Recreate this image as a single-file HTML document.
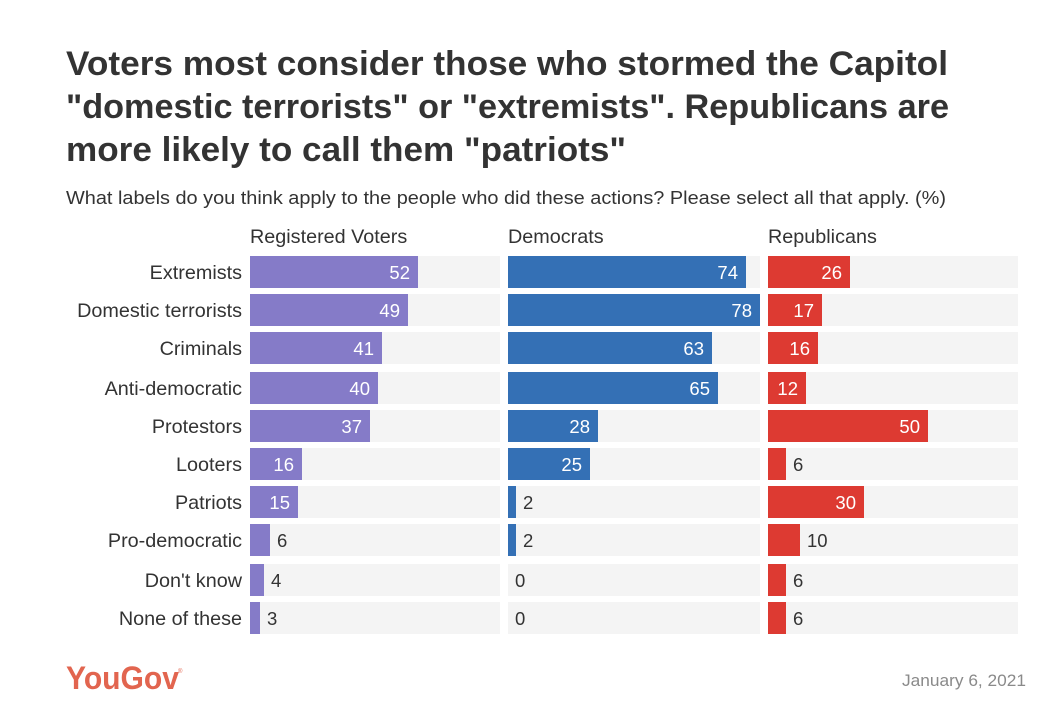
<!DOCTYPE html>
<html lang="en">
<head>
<meta charset="utf-8">
<title>YouGov chart</title>
<style>
  html, body { margin: 0; padding: 0; background: #fff; }
  svg { display: block; font-family: "Liberation Sans", sans-serif; }
</style>
</head>
<body>
<svg id="chart" width="1058" height="726" viewBox="0 0 1058 726" xmlns="http://www.w3.org/2000/svg">
  <rect x="0" y="0" width="1058" height="726" fill="#ffffff"/>
  <g font-size="34" font-weight="700" fill="#333333">
    <text x="66" y="75" textLength="882" lengthAdjust="spacingAndGlyphs">Voters most consider those who stormed the Capitol</text>
    <text x="66" y="118" textLength="883" lengthAdjust="spacingAndGlyphs">"domestic terrorists" or "extremists". Republicans are</text>
    <text x="66" y="161" textLength="560" lengthAdjust="spacingAndGlyphs">more likely to call them "patriots"</text>
  </g>
  <text x="66" y="204" font-size="18.5" fill="#333333" textLength="880" lengthAdjust="spacingAndGlyphs">What labels do you think apply to the people who did these actions? Please select all that apply. (%)</text>
  <g id="plot"></g>
  <g>
    <text x="66" y="689" font-size="32" font-weight="700" fill="#e2654f" textLength="113" lengthAdjust="spacingAndGlyphs">YouGov</text>
    <text x="178" y="673" font-size="6" fill="#e2654f">®</text>
  </g>
  <text x="1026" y="686" font-size="17" fill="#8a8a8a" text-anchor="end" textLength="124" lengthAdjust="spacingAndGlyphs">January 6, 2021</text>
</svg>
<script>
const categories = ["Extremists", "Domestic terrorists", "Criminals", "Anti-democratic", "Protestors", "Looters", "Patriots", "Pro-democratic", "Don't know", "None of these"];
const registeredVoters = [52, 49, 41, 40, 37, 16, 15, 6, 4, 3];
const democrats = [74, 78, 63, 65, 28, 25, 2, 2, 0, 0];
const republicans = [26, 17, 16, 12, 50, 6, 30, 10, 6, 6];
const panelTitles = ["Registered Voters", "Democrats", "Republicans"];

const NS = "http://www.w3.org/2000/svg";
const plot = document.getElementById("plot");
const series = [registeredVoters, democrats, republicans];
const colors = ["#857bc8", "#3470b5", "#dd3a32"];
const panelLeft = [250, 508, 768];
const trackWidths = [250, 252, 250];
const pxPerUnit = [3.2, 3.21, 3.2];
const snap = [Math.ceil, Math.ceil, Math.floor];
const barHeight = 32;
const insideMin = 12;
const labelSize = 19.8;

function yPos(i) { return 2 * Math.round((256 + i * 38.4) / 2); }
function xLen(v, p) { return 2 * snap[p](v * pxPerUnit[p] / 2); }

function make(tag, attrs, text) {
  const el = document.createElementNS(NS, tag);
  for (const k in attrs) el.setAttribute(k, attrs[k]);
  if (text !== undefined) el.textContent = text;
  return el;
}

categories.forEach(function (cat, i) {
  const label = make("text", { x: 242, y: yPos(i) + 23, "font-size": labelSize, fill: "#333333", "text-anchor": "end" }, cat);
  
  
  plot.appendChild(label);
});

series.forEach(function (values, p) {
  const left = panelLeft[p];
  const title = make("text", { x: left, y: 243, "font-size": labelSize, fill: "#333333" }, panelTitles[p]);
  
  
  plot.appendChild(title);

  values.forEach(function (v, i) {
    const y = yPos(i);
    const track = make("rect", { x: left, y: y, width: trackWidths[p], height: barHeight, fill: "#f4f4f4" });
    
    
    plot.appendChild(track);

    const w = xLen(v, p);
    const bar = make("rect", { x: left, y: y, width: w, height: barHeight, fill: colors[p] });
    
    
    plot.appendChild(bar);

    const inside = v >= insideMin;
    const value = make("text", {
      x: inside ? left + w - 8 : left + w + 7,
      y: y + 23,
      "font-size": 18.5,
      fill: inside ? "#ffffff" : "#333333",
      "text-anchor": inside ? "end" : "start"
    }, String(v));
    
    
    plot.appendChild(value);
  });
});
</script>
</body>
</html>
